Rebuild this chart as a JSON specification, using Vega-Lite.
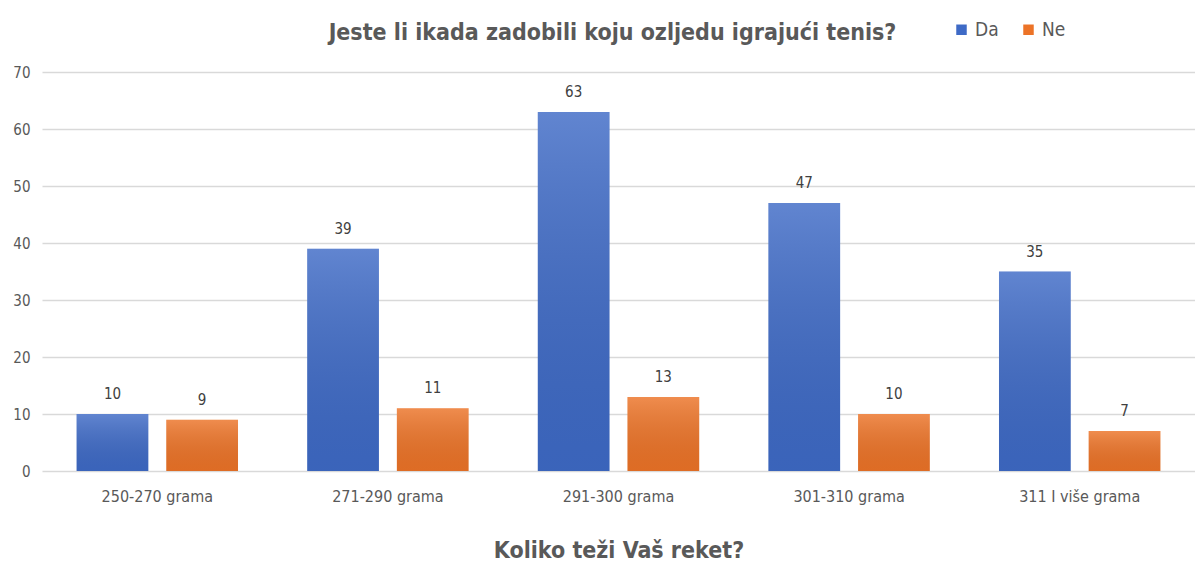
{
  "$schema": "https://vega.github.io/schema/vega-lite/v6.json",
  "width": 1153,
  "height": 399,
  "autosize": {"type": "none"},
  "padding": {"left": 42, "top": 72, "right": 0, "bottom": 94},
  "background": "white",
  "config": {
    "font": "Liberation Sans Narrow, DejaVu Sans Condensed, sans-serif",
    "view": {"stroke": null}
  },
  "title": {
    "text": "Jeste li ikada zadobili koju ozljedu igrajući tenis?",
    "anchor": "middle",
    "frame": "group",
    "fontSize": 23,
    "fontWeight": "bold",
    "color": "#595959",
    "offset": -25,
    "dx": -6
  },
  "data": {
    "values": [
      {"kategorija": "250-270 grama", "odgovor": "Da", "broj": 10},
      {"kategorija": "250-270 grama", "odgovor": "Ne", "broj": 9},
      {"kategorija": "271-290 grama", "odgovor": "Da", "broj": 39},
      {"kategorija": "271-290 grama", "odgovor": "Ne", "broj": 11},
      {"kategorija": "291-300 grama", "odgovor": "Da", "broj": 63},
      {"kategorija": "291-300 grama", "odgovor": "Ne", "broj": 13},
      {"kategorija": "301-310 grama", "odgovor": "Da", "broj": 47},
      {"kategorija": "301-310 grama", "odgovor": "Ne", "broj": 10},
      {"kategorija": "311 I više grama", "odgovor": "Da", "broj": 35},
      {"kategorija": "311 I više grama", "odgovor": "Ne", "broj": 7}
    ]
  },
  "encoding": {
    "x": {
      "field": "kategorija",
      "type": "nominal",
      "sort": null,
      "scale": {"paddingInner": 0.3, "paddingOuter": 0.15},
      "axis": {
        "title": "Koliko teži Vaš reket?",
        "titleFontSize": 23,
        "titleFontWeight": "bold",
        "titleColor": "#595959",
        "titlePadding": 35,
        "labelAngle": 0,
        "labelFontSize": 16,
        "labelColor": "#595959",
        "labelPadding": 17,
        "ticks": false,
        "domain": false
      }
    },
    "xOffset": {"field": "odgovor", "type": "nominal", "scale": {"paddingInner": 0.2}},
    "y": {
      "field": "broj",
      "type": "quantitative",
      "scale": {"domain": [0, 70]},
      "axis": {
        "title": null,
        "values": [0, 10, 20, 30, 40, 50, 60, 70],
        "labelFontSize": 15,
        "labelColor": "#595959",
        "labelPadding": 12,
        "ticks": false,
        "domain": false,
        "gridColor": "#d9d9d9",
        "gridWidth": 1.5
      }
    }
  },
  "layer": [
    {
      "mark": {"type": "bar"},
      "encoding": {
        "color": {
          "field": "odgovor",
          "type": "nominal",
          "scale": {"domain": ["Da", "Ne"], "range": ["#3e6ac6", "#ec7327"]},
          "legend": {
            "title": null,
            "orient": "none",
            "direction": "horizontal",
            "legendX": 910,
            "legendY": -52,
            "symbolType": "square",
            "symbolSize": 110,
            "labelFontSize": 19,
            "labelColor": "#595959",
            "columnPadding": 20,
            "labelOffset": 4
          }
        }
      }
    },
    {
      "mark": {
        "type": "bar",
        "fill": {
          "gradient": "linear",
          "x1": 0, "y1": 0, "x2": 0, "y2": 1,
          "stops": [
            {"offset": 0, "color": "rgba(255,255,255,0.18)"},
            {"offset": 1, "color": "rgba(0,0,0,0.06)"}
          ]
        }
      }
    },
    {
      "mark": {"type": "text", "baseline": "bottom", "dy": -12, "fontSize": 15, "color": "#404040"},
      "encoding": {"text": {"field": "broj", "type": "quantitative"}}
    }
  ]
}
